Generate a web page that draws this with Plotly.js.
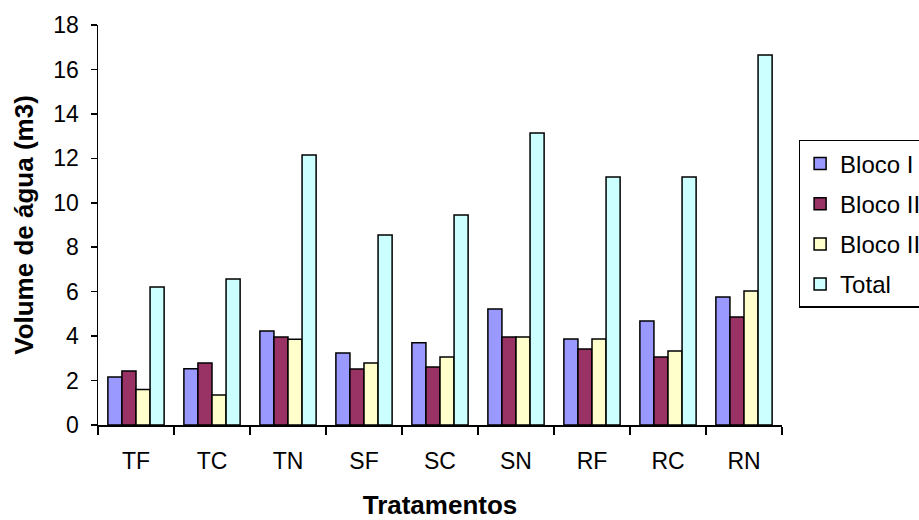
<!DOCTYPE html>
<html>
<head>
<meta charset="utf-8">
<script src="https://cdn.plot.ly/plotly-3.0.1.min.js"></script>
<style>html,body{margin:0;padding:0;background:#fff;}#chart{width:919px;height:520px;}</style>
</head>
<body>
<div id="chart"></div>
<script>
var categories = ["TF", "TC", "TN", "SF", "SC", "SN", "RF", "RC", "RN"];
var blocoI   = [2.16, 2.53, 4.23, 3.24, 3.70, 5.22, 3.87, 4.68, 5.76];
var blocoII  = [2.43, 2.79, 3.96, 2.52, 2.61, 3.96, 3.42, 3.06, 4.86];
var blocoIII = [1.60, 1.35, 3.86, 2.79, 3.06, 3.96, 3.87, 3.33, 6.03];
var total    = [6.21, 6.57, 12.15, 8.55, 9.45, 13.14, 11.16, 11.16, 16.65];
var seriesNames = ["Bloco I", "Bloco II", "Bloco III", "Total"];
var seriesColors = ["#9999FF", "#993366", "#FFFFCC", "#CCFFFF"];
var yTicks = [0, 2, 4, 6, 8, 10, 12, 14, 16, 18];

var values = [blocoI, blocoII, blocoIII, total];
var traces = values.map(function (v, i) {
  return {
    type: "bar",
    x: categories,
    y: v,
    name: seriesNames[i],
    legendgroup: "g" + i,
    marker: { color: seriesColors[i], line: { color: "#000", width: 1.5 } }
  };
});

var font = "Liberation Sans, Arial, sans-serif";
var layout = {
  width: 919, height: 520,
  paper_bgcolor: "#fff", plot_bgcolor: "#fff",
  margin: { l: 98, r: 137, t: 25, b: 95 },
  barmode: "group", bargap: 0.26, bargroupgap: 0,
  font: { family: font, size: 23, color: "#000" },
  xaxis: {
    type: "category",
    showline: true, linecolor: "#000", linewidth: 1.5,
    ticks: "outside", tickson: "boundaries", ticklen: 8, tickwidth: 1.5, tickcolor: "#000",
    ticklabelstandoff: 15,
    tickfont: { size: 23 },
    title: { text: "<b>Tratamentos</b>", font: { size: 26 }, standoff: 26 },
    showgrid: false, zeroline: false
  },
  yaxis: {
    range: [0, 18],
    tickvals: yTicks,
    showline: true, linecolor: "#000", linewidth: 1.5,
    ticks: "outside", ticklen: 6, tickwidth: 1.5, tickcolor: "#000",
    ticklabelstandoff: 7,
    tickfont: { size: 23 },
    title: { text: "<b>Volume de água (m3)</b>", font: { size: 26 }, standoff: 12 },
    showgrid: false, zeroline: false
  },
  showlegend: true,
  legend: {
    xref: "container", yref: "container",
    x: 0.869, y: 0.731, xanchor: "left", yanchor: "top",
    bordercolor: "#000", borderwidth: 1.5, bgcolor: "#fff",
    font: { size: 24 },
    tracegroupgap: 6,
    traceorder: "grouped"
  }
};

Plotly.newPlot("chart", traces, layout, { displayModeBar: false, staticPlot: true });
</script>
</body>
</html>
